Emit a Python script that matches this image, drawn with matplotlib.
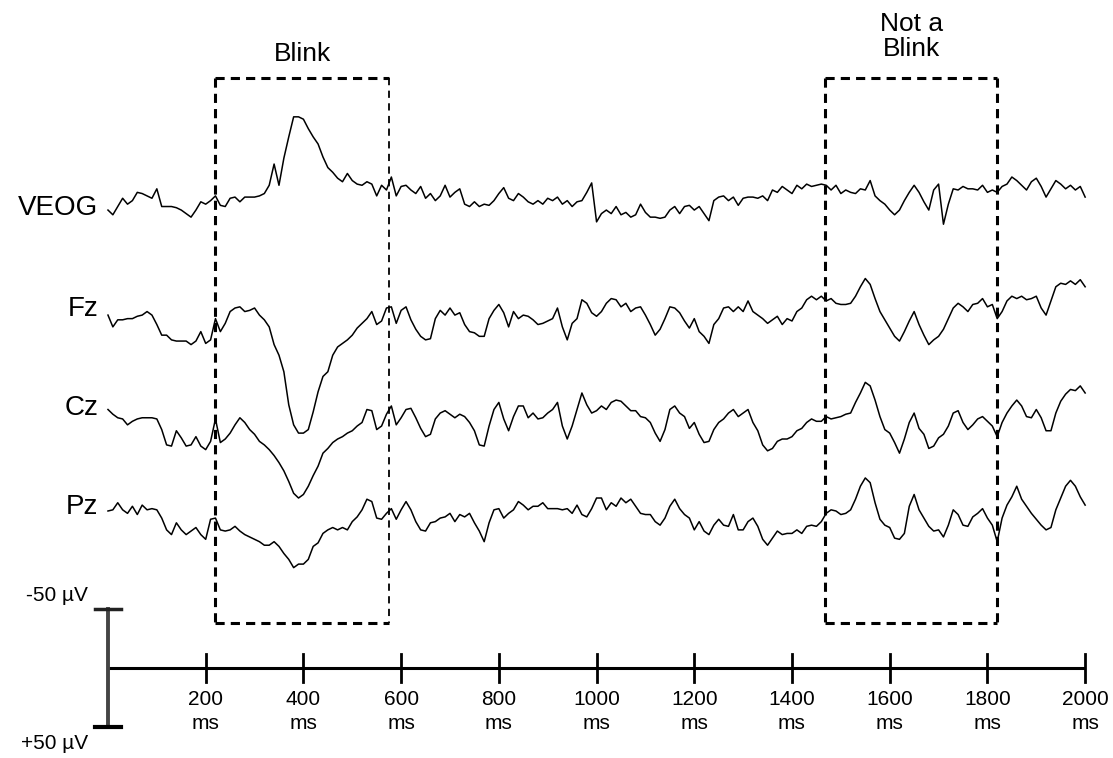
import numpy as np
import matplotlib
matplotlib.use('Agg')
import matplotlib.pyplot as plt

plt.rcParams['font.family'] = ['Liberation Sans', 'DejaVu Sans']

# sample times (ms), one every 10 ms
t_ms = np.arange(0, 2001, 10)

# amplitudes in uV (negative plotted up)
veog = [4, 8, 1, -6, -1, -4, -11, -10, -8, -6,
        -14, 1, 1, 1, 2, 4, 7, 10, 4, -3,
        -1, -4, -8, 0, 1, -6, -7, -3, -7, -7,
        -7, -8, -10, -17, -35, -17, -40, -58, -75, -75,
        -73, -65, -58, -52, -41, -32, -28, -23, -20, -27,
        -21, -18, -17, -20, -18, -8, -17, -13, -24, -8,
        -16, -17, -13, -10, -16, -6, -10, -4, -8, -17,
        -7, -11, -14, -1, 1, -3, 1, -1, 0, -4,
        -10, -15, -6, -4, -10, -7, -3, -1, -4, -1,
        -6, -4, -7, -1, -4, 1, -3, -4, -11, -19,
        14, 7, 4, 7, 1, 8, 6, 10, 8, -1,
        6, 10, 10, 11, 10, 4, 1, 7, 1, 0,
        4, 1, 7, 13, -4, -7, -8, -4, -7, 0,
        -6, -7, -7, -6, -8, -4, -13, -11, -16, -13,
        -10, -17, -14, -18, -16, -17, -18, -17, -13, -17,
        -10, -13, -11, -10, -14, -13, -21, -8, -4, -1,
        4, 8, 4, -4, -11, -17, -11, -3, 4, -13,
        -18, 16, -1, -14, -13, -16, -14, -14, -13, -17,
        -11, -13, -11, -16, -18, -24, -21, -17, -13, -20,
        -23, -16, -7, -14, -21, -18, -14, -17, -13, -16,
        -7]

fz = [-4, 6, 0, 0, -1, -1, -3, -4, -7, -4,
      4, 13, 13, 17, 18, 18, 18, 21, 18, 10,
      20, 17, -1, 10, 3, -7, -10, -11, -7, -8,
      -10, -4, 0, 6, 21, 30, 44, 72, 89, 96,
      96, 93, 78, 61, 48, 44, 30, 23, 20, 17,
      13, 7, 3, -1, -7, 4, 1, -10, -11, 3,
      -8, -11, 0, 8, 14, 17, 16, -1, -8, -4,
      -10, -4, -6, 4, 10, 11, 14, 14, -1, -8,
      -13, -6, 6, -7, -1, -4, -3, 0, 4, 3,
      1, -1, -10, 6, 17, 3, -1, -17, -14, -6,
      -3, -7, -14, -18, -17, -11, -14, -7, -10, -11,
      -4, 4, 13, 8, -1, -11, -10, -6, 1, 7,
      -1, 10, 14, 20, 4, -1, -10, -11, -7, -11,
      -7, -16, -7, -4, -1, 3, 0, -3, 4, -1,
      1, -7, -10, -17, -20, -17, -20, -16, -18, -14,
      -13, -13, -14, -20, -28, -35, -30, -18, -7, 0,
      7, 14, 18, 10, 1, -7, 4, 13, 21, 17,
      14, 8, -1, -10, -14, -11, -7, -13, -14, -18,
      -11, -13, -1, -7, -16, -20, -18, -20, -17, -18,
      -20, -10, -4, -16, -28, -31, -30, -33, -30, -34,
      -28]

cz = [0, 4, 7, 8, 13, 10, 8, 7, 7, 7,
      8, 17, 30, 31, 18, 24, 31, 30, 23, 31,
      34, 27, 8, 28, 25, 20, 13, 7, 11, 17,
      21, 27, 30, 34, 39, 45, 52, 61, 71, 75,
      72, 65, 56, 48, 37, 33, 28, 25, 23, 20,
      18, 14, 11, 0, 1, 17, 14, 4, -3, 13,
      7, 0, -1, 7, 16, 23, 21, 8, 3, 1,
      4, 7, 4, 6, 11, 18, 30, 31, 14, 0,
      -6, 8, 18, 6, -3, -3, 7, 3, 8, 7,
      3, 0, -6, 14, 25, 14, 0, -14, -4, 3,
      1, -3, 0, -6, -8, -7, -3, 1, 1, 6,
      7, 11, 20, 27, 17, 0, -3, 3, 6, 16,
      11, 21, 28, 27, 17, 11, 8, 3, 0, 6,
      3, 0, 11, 18, 30, 35, 33, 27, 25, 25,
      23, 18, 16, 11, 8, 10, 10, 6, 8, 7,
      6, 4, 3, -6, -14, -23, -20, -8, 6, 17,
      20, 28, 37, 25, 11, 3, 16, 21, 33, 31,
      24, 21, 14, 3, 1, 11, 17, 13, 8, 6,
      10, 14, 23, 11, 3, -3, -8, -3, 6, 7,
      0, 7, 18, 18, 3, -7, -13, -17, -16, -20,
      -14]

pz = [1, 0, -6, 0, 3, -3, 4, -4, 0, -1,
      0, 7, 17, 21, 11, 17, 21, 18, 15, 21,
      25, 8, 7, 17, 18, 17, 14, 18, 21, 23,
      25, 27, 30, 30, 27, 31, 37, 42, 49, 46,
      46, 42, 31, 28, 20, 17, 15, 17, 15, 17,
      10, 6, 0, -9, -7, 7, 8, 3, -1, 8,
      0, -7, 0, 10, 17, 18, 11, 10, 7, 6,
      3, 10, 4, 6, 3, 11, 18, 27, 11, 0,
      -1, 7, 3, 0, -7, -4, 0, -3, -3, -6,
      -1, -1, -1, 0, -1, 3, -4, 4, 6, -1,
      -10, -10, 0, -6, -3, -10, -6, -9, -3, 3,
      4, 4, 10, 13, 7, -3, -9, -1, 4, 7,
      17, 10, 18, 21, 13, 8, 13, 14, 4, 17,
      17, 10, 7, 14, 25, 30, 24, 18, 21, 20,
      20, 17, 20, 14, 13, 14, 10, 3, 0, 1,
      4, 3, 0, -9, -20, -27, -23, -6, 8, 13,
      15, 24, 25, 20, -3, -13, 0, 7, 14, 18,
      17, 23, 13, 0, 4, 13, 14, 6, 3, -1,
      7, 13, 27, 7, -4, -11, -20, -9, -3, 3,
      8, 13, 17, 15, 0, -10, -20, -25, -20, -11,
      -4]

channels = ['VEOG', 'Fz', 'Cz', 'Pz']
tick_ms = [200, 400, 600, 800, 1000, 1200, 1400, 1600, 1800, 2000]
blink_win = [219, 576]
noblink_win = [1468, 1820]

# vertical placement of each channel (uV below the time axis, negative = up)
offsets = [-392, -295, -219, -134]
label_y = [-390, -304, -220, -136]

fig = plt.figure(figsize=(11.13, 7.58), dpi=100)
ax = fig.add_axes([0, 0, 1, 1])
ax.set_xlim(-221, 2057)
ax.set_ylim(76.3, -566)
ax.axis('off')

for name, data, off, ly in zip(channels, [veog, fz, cz, pz], offsets, label_y):
    ax.plot(t_ms, off + np.array(data), color='k', lw=1.1)
    ax.text(-20, ly, name, ha='right', va='center', fontsize=20)

# dashed windows
box_top, box_bot = -500, -38
def box(x0, x1, thin_right=False):
    st = (0, (3, 2))
    ax.plot([x0, x1], [box_top, box_top], color='k', lw=2.2, ls=st)
    ax.plot([x0, x1], [box_bot, box_bot], color='k', lw=2.2, ls=st)
    ax.plot([x0, x0], [box_top, box_bot], color='k', lw=2.2, ls=st)
    if thin_right:
        ax.plot([x1, x1], [box_top, box_bot], color='k', lw=1.3, ls=(0, (4, 3)))
    else:
        ax.plot([x1, x1], [box_top, box_bot], color='k', lw=2.2, ls=st)

box(*blink_win, thin_right=True)
box(*noblink_win)
ax.text(np.mean(blink_win), -520, 'Blink', ha='center', va='center', fontsize=19)
ax.text(np.mean(noblink_win), -535, 'Not a\nBlink', ha='center', va='center',
        fontsize=19, linespacing=1.05)

# time axis
ax.plot([0, 2000], [0, 0], color='k', lw=2.2, solid_capstyle='butt')
for tk in tick_ms:
    ax.plot([tk, tk], [-12, 12], color='k', lw=2)
    ax.text(tk, 27, str(tk), ha='center', va='center', fontsize=15)
    ax.text(tk, 47, 'ms', ha='center', va='center', fontsize=15)

# amplitude scale bar
ax.plot([0, 0], [-50, 50], color='#444444', lw=2.8)
ax.plot([-27, 27], [-50, -50], color='#222222', lw=2.5)
ax.plot([-27, 27], [50, 50], color='k', lw=3)
ax.text(-41, -61, '-50 \u00b5V', ha='right', va='center', fontsize=15)
ax.text(-41, 64, '+50 \u00b5V', ha='right', va='center', fontsize=15)

plt.savefig('out.png', dpi=100)
